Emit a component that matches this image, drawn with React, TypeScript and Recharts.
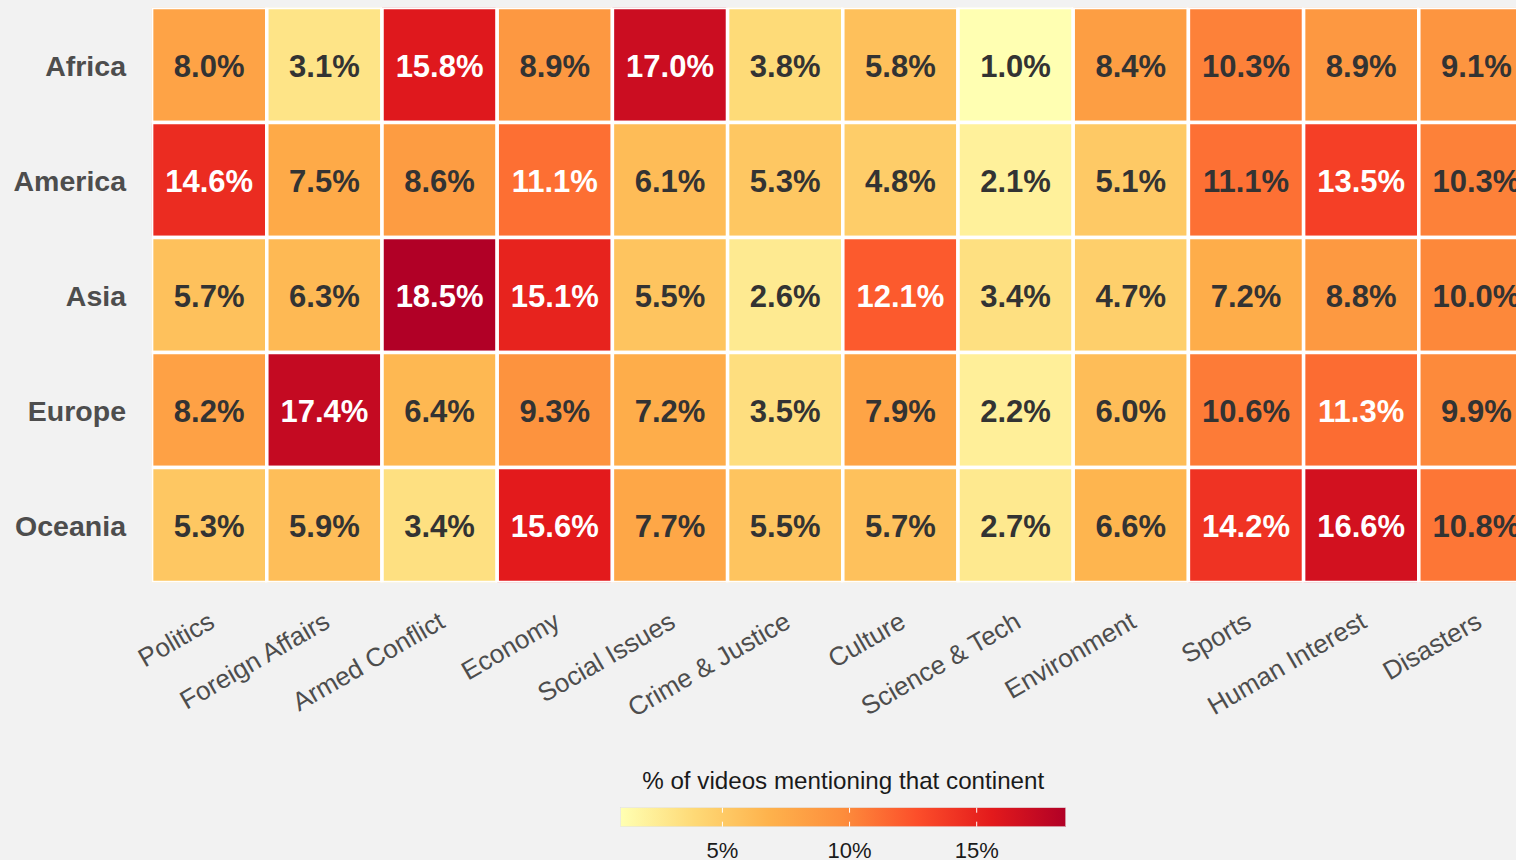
import { ScatterChart, Scatter, XAxis, YAxis, Customized } from 'recharts'

const topics = ['Politics', 'Foreign Affairs', 'Armed Conflict', 'Economy', 'Social Issues', 'Crime & Justice', 'Culture', 'Science & Tech', 'Environment', 'Sports', 'Human Interest', 'Disasters']
const continents = ['Africa', 'America', 'Asia', 'Europe', 'Oceania']

// % of videos mentioning the continent, one list per continent (topic order)
const africa = [8.0, 3.1, 15.8, 8.9, 17.0, 3.8, 5.8, 1.0, 8.4, 10.3, 8.9, 9.1]
const america = [14.6, 7.5, 8.6, 11.13, 6.1, 5.3, 4.8, 2.1, 5.1, 11.07, 13.5, 10.3]
const asia = [5.7, 6.3, 18.5, 15.1, 5.5, 2.6, 12.1, 3.4, 4.7, 7.2, 8.8, 10.0]
const europe = [8.2, 17.4, 6.4, 9.3, 7.2, 3.5, 7.9, 2.2, 6.0, 10.6, 11.3, 9.9]
const oceania = [5.3, 5.9, 3.4, 15.6, 7.7, 5.5, 5.7, 2.7, 6.6, 14.2, 16.6, 10.8]
const rows = [africa, america, asia, europe, oceania]

const legendTicks = [5, 10, 15]
const palette = ['#ffffb2', '#fed976', '#feb24c', '#fd8d3c', '#fc4e2a', '#e31a1c', '#b10026']

const FONT = '"Liberation Sans", Arial, Helvetica, sans-serif'

const W = 1540
const H = 860
const margin = { top: 7.5, right: 6, bottom: 157.5, left: 0 }
const yAxisW = 151.6
const xAxisH = 120
const cellW = (W - margin.left - margin.right - yAxisW) / topics.length
const cellH = (H - margin.top - margin.bottom - xAxisH) / continents.length

const allVals = rows.flat()
const minV = Math.min(...allVals)
const maxV = Math.max(...allVals)

const hex = (c: string) => [1, 3, 5].map(i => parseInt(c.slice(i, i + 2), 16))
function colorFor(v: number) {
    const t = Math.max(0, Math.min(1, (v - minV) / (maxV - minV))) * (palette.length - 1)
    const i = Math.min(Math.floor(t), palette.length - 2)
    const f = t - i
    const a = hex(palette[i])
    const b = hex(palette[i + 1])
    const c = a.map((x, k) => Math.round(x + (b[k] - x) * f))
    return `rgb(${c[0]},${c[1]},${c[2]})`
}

const cells = rows.flatMap((vals, r) => vals.map((pct, c) => ({ col: c, row: r, pct })))

const Tile = (props: any) => {
    const { cx, cy, payload } = props
    const v = payload.pct
    return (
        <g>
            <rect x={cx - cellW / 2} y={cy - cellH / 2} width={cellW} height={cellH} fill={colorFor(v)} stroke="#ffffff" strokeWidth={3.5} />
            <text x={cx} y={cy} dy={11.5} textAnchor="middle" fontFamily={FONT} fontSize={31} fontWeight="bold" fill={v > 11.1 ? '#ffffff' : '#333333'}>
                {v.toFixed(1)}%
            </text>
        </g>
    )
}

const TopicTick = (props: any) => {
    const { x, y, payload } = props
    return (
        <text transform={`translate(${x + 7},${y}) rotate(-30)`} textAnchor="end" fontFamily={FONT} fontSize={26} fill="#4d4d4d">
            {topics[payload.value]}
        </text>
    )
}

const ContinentTick = (props: any) => {
    const { x, y, payload } = props
    return (
        <text x={x} y={y} dy={11} textAnchor="end" fontFamily={FONT} fontSize={28.5} fontWeight="bold" fill="#4d4d4d">
            {continents[payload.value]}
        </text>
    )
}

const ColorBar = () => {
    const x0 = 620.7
    const x1 = 1065.7
    const y0 = 807.7
    const h = 19
    const sx = (v: number) => x0 + (v - minV) / (maxV - minV) * (x1 - x0)
    return (
        <g>
            <defs>
                <linearGradient id="ylorrd" x1="0" y1="0" x2="1" y2="0">
                    {palette.map((c, i) => (
                        <stop key={i} offset={i / (palette.length - 1)} stopColor={c} />
                    ))}
                </linearGradient>
            </defs>
            <text x={(x0 + x1) / 2} y={789} textAnchor="middle" fontFamily={FONT} fontSize={24.2} fill="#1a1a1a">
                % of videos mentioning that continent
            </text>
            <rect x={x0} y={y0} width={x1 - x0} height={h} fill="url(#ylorrd)" stroke="#e0e0e0" strokeWidth={0.5} />
            {legendTicks.map(t => (
                <g key={t}>
                    <line x1={sx(t)} x2={sx(t)} y1={y0} y2={y0 + 5} stroke="#ffffff" strokeWidth={1} />
                    <line x1={sx(t)} x2={sx(t)} y1={y0 + h - 5} y2={y0 + h} stroke="#ffffff" strokeWidth={1} />
                    <text x={sx(t)} y={858} textAnchor="middle" fontFamily={FONT} fontSize={22} fill="#1a1a1a">
                        {t}%
                    </text>
                </g>
            ))}
        </g>
    )
}

export default function App() {
    return (
        <div style={{ position: 'fixed', top: 0, left: 0, width: 1516, height: 860, overflow: 'hidden', background: '#f2f2f2' }}>
            <ScatterChart width={W} height={H} margin={margin}>
                <XAxis
                    type="number"
                    dataKey="col"
                    domain={[-0.5, topics.length - 0.5]}
                    ticks={topics.map((_, i) => i)}
                    interval={0}
                    allowDataOverflow
                    axisLine={false}
                    tickLine={false}
                    tickSize={0}
                    tickMargin={44}
                    height={xAxisH}
                    tick={<TopicTick />}
                />
                <YAxis
                    type="number"
                    dataKey="row"
                    domain={[-0.5, continents.length - 0.5]}
                    ticks={continents.map((_, i) => i)}
                    interval={0}
                    reversed
                    allowDataOverflow
                    axisLine={false}
                    tickLine={false}
                    tickSize={0}
                    tickMargin={25.6}
                    width={yAxisW}
                    tick={<ContinentTick />}
                />
                <Scatter data={cells} shape={<Tile />} isAnimationActive={false} />
                <Customized component={<ColorBar />} />
            </ScatterChart>
        </div>
    )
}
